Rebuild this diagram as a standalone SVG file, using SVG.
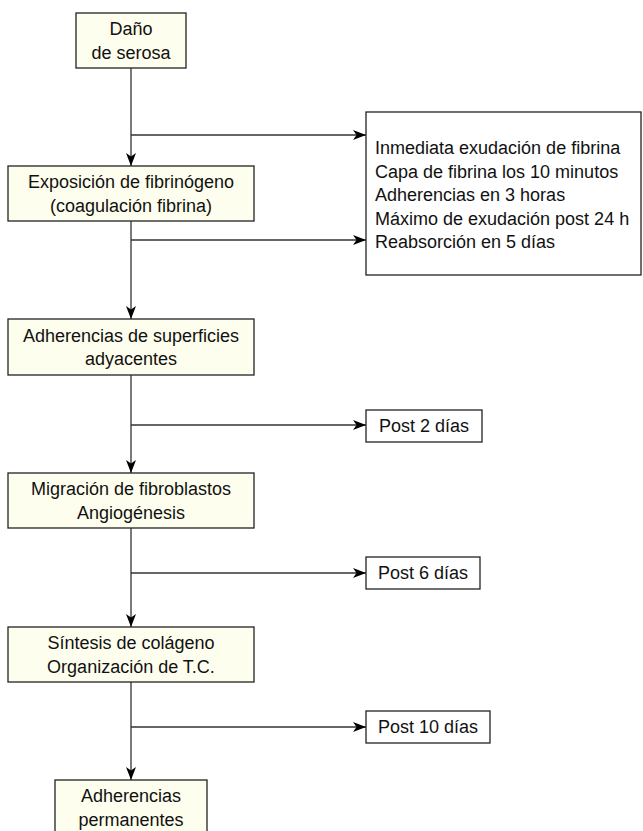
<svg xmlns="http://www.w3.org/2000/svg" width="643" height="831" viewBox="0 0 643 831">
<style>
.n{fill:#fefeee;stroke:#222;stroke-width:1.3}
.w{fill:#fff;stroke:#222;stroke-width:1.3}
.e{fill:none;stroke:#333;stroke-width:1.3}
text{font-family:"Liberation Sans",Arial,Helvetica,sans-serif;font-size:18px;fill:#111}
.c{text-anchor:middle}
</style>
<defs>
<marker id="arr" markerWidth="13" markerHeight="10" refX="13" refY="5" orient="auto" markerUnits="userSpaceOnUse">
<path d="M0,0 L13,5 L0,10 L3.5,5 z" fill="#000"/>
</marker>
</defs>
<rect width="643" height="831" fill="#fff"/>
<g id="connectors">
<line class="e" x1="131" y1="68" x2="131" y2="166" marker-end="url(#arr)"/>
<line class="e" x1="131" y1="221" x2="131" y2="319" marker-end="url(#arr)"/>
<line class="e" x1="131" y1="375" x2="131" y2="473" marker-end="url(#arr)"/>
<line class="e" x1="131" y1="528" x2="131" y2="627" marker-end="url(#arr)"/>
<line class="e" x1="131" y1="682" x2="131" y2="780" marker-end="url(#arr)"/>
<line class="e" x1="131" y1="135" x2="366" y2="135" marker-end="url(#arr)"/>
<line class="e" x1="131" y1="240" x2="366" y2="240" marker-end="url(#arr)"/>
<line class="e" x1="131" y1="425" x2="366" y2="425" marker-end="url(#arr)"/>
<line class="e" x1="131" y1="573" x2="366" y2="573" marker-end="url(#arr)"/>
<line class="e" x1="131" y1="727" x2="366" y2="727" marker-end="url(#arr)"/>
</g>
<g id="n1">
<rect class="n" x="76" y="13" width="110" height="55"/>
<text class="c" x="131" y="35">Daño</text>
<text class="c" x="131" y="58.5">de serosa</text>
</g>
<g id="n2">
<rect class="n" x="8" y="166" width="246" height="55"/>
<text class="c" x="131" y="188">Exposición de fibrinógeno</text>
<text class="c" x="131" y="211.5">(coagulación fibrina)</text>
</g>
<g id="n3">
<rect class="n" x="8" y="319" width="246" height="56"/>
<text class="c" x="131" y="341.5">Adherencias de superficies</text>
<text class="c" x="131" y="365">adyacentes</text>
</g>
<g id="n4">
<rect class="n" x="8" y="473" width="246" height="55"/>
<text class="c" x="131" y="495">Migración de fibroblastos</text>
<text class="c" x="131" y="518.5">Angiogénesis</text>
</g>
<g id="n5">
<rect class="n" x="8" y="627" width="246" height="55"/>
<text class="c" x="131" y="649">Síntesis de colágeno</text>
<text class="c" x="131" y="672.5">Organización de T.C.</text>
</g>
<g id="n6">
<rect class="n" x="55" y="780" width="152" height="56"/>
<text class="c" x="131" y="802">Adherencias</text>
<text class="c" x="131" y="825.5">permanentes</text>
</g>
<g id="n7">
<rect class="w" x="366" y="112" width="275" height="163"/>
<text x="375" y="154">Inmediata exudación de fibrina</text>
<text x="375" y="177.5">Capa de fibrina los 10 minutos</text>
<text x="375" y="201">Adherencias en 3 horas</text>
<text x="375" y="224.5">Máximo de exudación post 24 h</text>
<text x="375" y="248">Reabsorción en 5 días</text>
</g>
<g id="n8">
<rect class="w" x="366" y="410" width="116" height="32"/>
<text class="c" x="424" y="432">Post 2 días</text>
</g>
<g id="n9">
<rect class="w" x="366" y="557" width="114" height="32"/>
<text class="c" x="423" y="579">Post 6 días</text>
</g>
<g id="n10">
<rect class="w" x="366" y="711" width="124" height="32"/>
<text class="c" x="428" y="733">Post 10 días</text>
</g>
</svg>
